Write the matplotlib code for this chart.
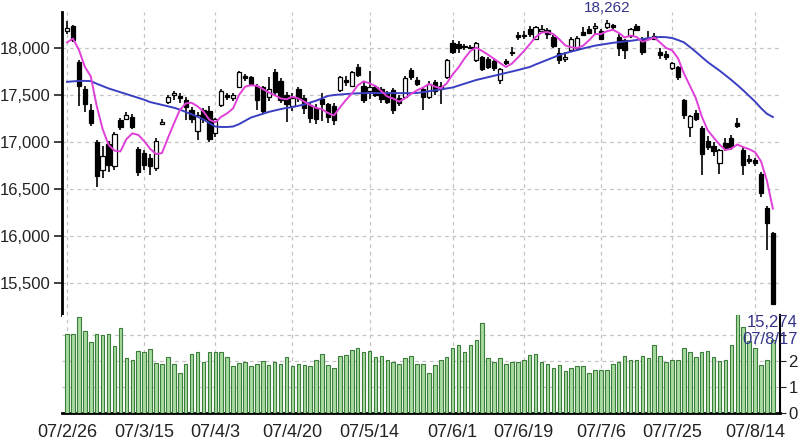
import matplotlib.pyplot as plt
import numpy as np

# daily OHLC (index = trading day, 07/2/26 .. 07/8/17)
opens = [18180, 18230, 17850, 17560, 17340, 17000, 16700, 16980, 16740, 17230,
         17250, 17270, 16930, 16880, 16830, 16720, 17190, 17430, 17500, 17490,
         17450, 17340, 17120, 17340, 17330, 17100, 17390, 17500, 17470, 17590,
         17700, 17690, 17600, 17580, 17480, 17740, 17650, 17500, 17380, 17560,
         17470, 17390, 17360, 17460, 17400, 17380, 17550, 17660, 17600, 17800,
         17600, 17540, 17590, 17560, 17520, 17550, 17470, 17480, 17770, 17660,
         17560, 17480, 17640, 17560, 17690, 18050, 18040, 18020, 18010, 17870,
         17900, 17880, 17860, 17660, 17860, 17950, 18140, 18140, 18200, 18100,
         18180, 18190, 18120, 17950, 17880, 17980, 18000, 18170, 18200, 18210,
         18180, 18220, 18240, 18120, 18080, 18130, 18230, 18100, 18100, 18130,
         17960, 17940, 17790, 17800, 17450, 17160, 17310, 17150, 17010, 16960,
         16780, 16990, 17040, 17200, 16920, 16820, 16810, 16660, 16300, 16030]
highs = [18290, 18240, 17870, 17600, 17400, 17020, 16960, 17010, 17110, 17260,
         17320, 17300, 16950, 16910, 16870, 17040, 17250, 17500, 17540, 17520,
         17480, 17370, 17320, 17360, 17380, 17260, 17560, 17520, 17520, 17760,
         17720, 17700, 17620, 17600, 17690, 17780, 17680, 17530, 17520, 17590,
         17500, 17420, 17400, 17520, 17420, 17410, 17700, 17700, 17760, 17830,
         17640, 17760, 17610, 17580, 17540, 17570, 17500, 17700, 17790, 17690,
         17580, 17650, 17660, 17640, 17880, 18080, 18070, 18040, 18030, 18060,
         17920, 17900, 17880, 17790, 17880, 18010, 18170, 18180, 18230, 18230,
         18240, 18210, 18140, 18000, 17960, 18120, 18130, 18220, 18230, 18270,
         18200, 18297, 18260, 18150, 18100, 18210, 18260, 18120, 18180, 18160,
         18000, 17970, 17850, 17810, 17460, 17290, 17340, 17170, 17060, 17000,
         16930, 17040, 17070, 17260, 16950, 16860, 16830, 16680, 16320, 16040]
lows = [18150, 18060, 17380, 17320, 17170, 16520, 16620, 16680, 16700, 17130,
        17230, 17140, 16640, 16700, 16650, 16690, 17180, 17400, 17450, 17410,
        17230, 17200, 17020, 17200, 17000, 17050, 17370, 17450, 17440, 17570,
        17650, 17600, 17340, 17300, 17440, 17500, 17420, 17210, 17330, 17430,
        17300, 17200, 17190, 17220, 17200, 17180, 17530, 17600, 17580, 17690,
        17420, 17460, 17480, 17420, 17400, 17300, 17380, 17460, 17660, 17600,
        17340, 17460, 17500, 17400, 17670, 17940, 17950, 17980, 17990, 17850,
        17760, 17780, 17760, 17620, 17820, 17920, 18090, 18100, 18120, 18090,
        18160, 18100, 18000, 17830, 17850, 17960, 17980, 18130, 18150, 18150,
        18080, 18200, 18190, 17920, 17880, 18110, 18180, 17930, 18080, 18080,
        17880, 17870, 17770, 17660, 17240, 17050, 17220, 16650, 16920, 16850,
        16660, 16900, 16920, 17150, 16650, 16770, 16740, 16420, 15850, 15262]
closes = [18215, 18080, 17600, 17400, 17200, 16640, 16850, 16760, 17090, 17160,
          17290, 17160, 16680, 16760, 16750, 17010, 17210, 17480, 17520, 17470,
          17370, 17250, 17290, 17240, 17030, 17240, 17540, 17480, 17500, 17740,
          17680, 17620, 17450, 17330, 17560, 17530, 17450, 17400, 17470, 17470,
          17360, 17260, 17250, 17400, 17270, 17230, 17690, 17640, 17740, 17710,
          17450, 17580, 17500, 17460, 17430, 17340, 17420, 17680, 17690, 17620,
          17480, 17620, 17540, 17600, 17870, 17960, 18000, 18010, 18000, 18050,
          17780, 17800, 17790, 17780, 17840, 17960, 18120, 18130, 18150, 18220,
          18200, 18150, 18020, 17870, 17900, 18100, 18110, 18140, 18160, 18230,
          18100, 18262, 18220, 18000, 17980, 18200, 18190, 17960, 18110, 18100,
          17930, 17900, 17840, 17690, 17290, 17280, 17240, 16870, 16950, 16900,
          16910, 16940, 16950, 17170, 16760, 16800, 16780, 16460, 16140, 15274]

# volume (billion shares)
volume = [3.04, 3.04, 3.70, 3.15, 2.73, 3.04, 3.00, 3.04, 2.58, 3.27,
          2.12, 2.04, 2.38, 2.33, 2.46, 1.92, 1.90, 2.15, 1.90, 1.54,
          1.90, 2.27, 2.33, 1.96, 2.33, 2.33, 2.33, 2.15, 1.81, 1.92,
          1.96, 1.80, 1.90, 2.00, 1.83, 1.96, 1.90, 2.15, 1.80, 1.90,
          1.83, 1.80, 2.04, 2.27, 1.83, 1.75, 2.20, 2.23, 2.42, 2.50,
          2.35, 2.38, 2.17, 2.20, 2.04, 1.96, 1.90, 2.13, 2.20, 1.90,
          1.90, 1.54, 1.85, 2.04, 2.15, 2.50, 2.60, 2.35, 2.60, 2.80,
          3.46, 2.12, 1.96, 2.13, 1.90, 1.96, 1.96, 2.04, 2.23, 2.27,
          1.96, 1.90, 1.75, 1.83, 1.60, 1.72, 1.80, 1.80, 1.54, 1.65,
          1.65, 1.65, 1.90, 1.96, 2.20, 2.04, 2.04, 2.20, 2.13, 2.60,
          2.20, 1.96, 2.04, 2.04, 2.50, 2.33, 2.15, 2.33, 2.38, 2.15,
          2.00, 2.04, 2.60, 3.80, 3.30, 2.76, 2.50, 1.85, 2.04, 2.80]

# short (pink) and long (blue) moving averages
ma_short = [18060, 18100, 17980, 17800, 17699, 17384, 17138, 16970, 16908, 16900,
            17030, 17092, 17076, 17010, 16928, 16872, 16882, 17042, 17194, 17338,
            17410, 17418, 17380, 17324, 17236, 17210, 17268, 17306, 17358, 17500,
            17588, 17604, 17598, 17564, 17528, 17498, 17464, 17454, 17482, 17464,
            17430, 17392, 17362, 17348, 17308, 17282, 17368, 17446, 17514, 17602,
            17646, 17624, 17596, 17540, 17484, 17462, 17430, 17466, 17512, 17550,
            17578, 17618, 17590, 17572, 17622, 17718, 17794, 17888, 17968, 18004,
            17968, 17928, 17884, 17840, 17798, 17834, 17898, 17966, 18040, 18116,
            18164, 18170, 18148, 18092, 18028, 18008, 18000, 18024, 18082, 18148,
            18148, 18178, 18194, 18162, 18112, 18132, 18118, 18066, 18088, 18112,
            18058, 18000, 17976, 17892, 17730, 17600, 17468, 17274, 17126, 17048,
            16974, 16914, 16930, 16974, 16946, 16924, 16892, 16794, 16588, 16291]
ma_long = [17640, 17645, 17650, 17650, 17648, 17620, 17595, 17570, 17550, 17530,
           17510, 17490, 17470, 17450, 17425, 17410, 17395, 17380, 17365, 17345,
           17320, 17295, 17270, 17240, 17200, 17165, 17160, 17160, 17165, 17190,
           17225, 17260, 17280, 17300, 17320, 17335, 17350, 17362, 17372, 17385,
           17400, 17420, 17440, 17465, 17490, 17500, 17505, 17510, 17515, 17518,
           17520, 17521, 17521, 17521, 17521, 17520, 17520, 17520, 17520, 17522,
           17530, 17540, 17550, 17560, 17570, 17580, 17600, 17620, 17640, 17660,
           17675, 17690, 17705, 17720, 17735, 17750, 17765, 17782, 17798, 17825,
           17850, 17875, 17900, 17926, 17945, 17962, 17978, 17995, 18010, 18025,
           18035, 18045, 18055, 18062, 18070, 18076, 18085, 18095, 18105, 18112,
           18117, 18115, 18106, 18085, 18060, 18011, 17960, 17905, 17851, 17805,
           17760, 17710, 17660, 17606, 17550, 17490, 17430, 17360, 17300, 17266]

tick_idx = [0, 13, 25, 38, 51, 65, 77, 90, 102, 116]
tick_labels = ["07/2/26", "07/3/15", "07/4/3", "07/4/20", "07/5/14",
               "07/6/1", "07/6/19", "07/7/6", "07/7/25", "07/8/14"]
price_ticks = [15500, 16000, 16500, 17000, 17500, 18000]
vol_ticks = [0, 1, 2, 3]
vol_labels = ["0", "1", "2", ""]  # "3" sits under the 07/8/17 label

plt.rcParams["font.family"] = ["Liberation Sans", "DejaVu Sans"]

W, H = 800, 448
fig = plt.figure(figsize=(8, 4.48), dpi=100)
ax = fig.add_axes([62 / W, 1 - 315 / H, 718 / W, 303 / H])
axv = fig.add_axes([62 / W, 1 - 413 / H, 718 / W, 98 / H], sharex=ax)

x = np.arange(len(closes))
o = np.array(opens)
c = np.array(closes)
up = c >= o

grid_kw = dict(color="#c4c4c4", linestyle=(0, (3, 3)), linewidth=0.9)

# candles
ax.vlines(x, lows, highs, color="black", linewidth=1.2, zorder=3)
body_lo = np.minimum(o, c)
body_h = np.maximum(np.abs(c - o), 10)
ax.bar(x[~up], body_h[~up], bottom=body_lo[~up], width=0.72,
       color="black", edgecolor="black", linewidth=0.9, zorder=4)
ax.bar(x[up], body_h[up], bottom=body_lo[up], width=0.72,
       color="white", edgecolor="black", linewidth=0.9, zorder=4)

ax.plot(x, ma_long, color="#3a3fc2", linewidth=1.4, zorder=5)
ax.plot(x, ma_short, color="#e040d8", linewidth=1.4, zorder=5)

ax.set_xlim(-0.85, 120.2)
ax.set_ylim(15160, 18383)
ax.set_yticks(price_ticks)
ax.set_yticklabels([f"{v:,}" for v in price_ticks])
for v in price_ticks:
    ax.axhline(v, zorder=0, **grid_kw)
for t in tick_idx:
    ax.axvline(t, zorder=0, **grid_kw)
for s in ["top", "right", "bottom"]:
    ax.spines[s].set_visible(False)
ax.spines["left"].set_linewidth(2)
ax.tick_params(axis="y", direction="out", length=6, width=1.2,
               labelsize=12, colors="#222222", pad=2)
ax.tick_params(axis="x", bottom=False, labelbottom=False)

# volume
axv.bar(x, volume, width=0.6, color="#a6da9e", edgecolor="#3b7d3b",
        linewidth=0.8, zorder=3)
axv.set_ylim(0, 3.77)
axv.set_yticks(vol_ticks)
axv.set_yticklabels(vol_labels)
axv.yaxis.tick_right()
for v in vol_ticks[1:]:
    axv.axhline(v, zorder=0, **grid_kw)
for t in tick_idx:
    axv.axvline(t, zorder=0, **grid_kw)
axv.spines["top"].set_visible(False)
axv.spines["left"].set_visible(False)
axv.spines["bottom"].set_linewidth(2)
axv.spines["right"].set_linewidth(1.5)
axv.tick_params(axis="y", direction="out", length=4, labelsize=12,
                colors="#222222", pad=2)
axv.set_xticks(tick_idx)
axv.set_xticklabels(tick_labels)
axv.tick_params(axis="x", length=0, labelsize=13, colors="#222222", pad=8)

# annotations for high / last values
fig.text(607 / W, 1 - 8 / H, "18,262", color="#33338a", fontsize=11,
         ha="center", va="center")
fig.text(798 / W, 1 - 322 / H, "15,274", color="#33338a", fontsize=12,
         ha="right", va="center")
fig.text(798 / W, 1 - 339 / H, "07/8/17", color="#33338a", fontsize=12,
         ha="right", va="center")

fig.savefig("out.png", dpi=100)
